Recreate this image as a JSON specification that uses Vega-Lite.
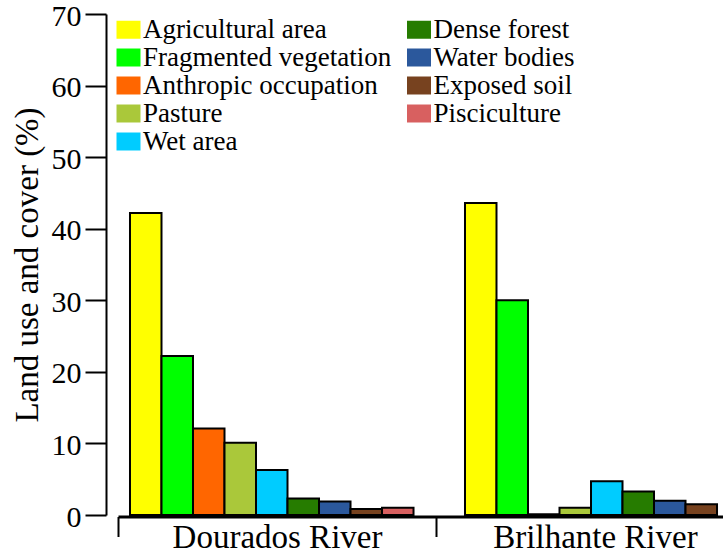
{
  "$schema": "https://vega.github.io/schema/vega-lite/v6.json",
  "width": 605,
  "height": 501,
  "autosize": {"type": "none"},
  "padding": {"left": 118, "top": 14, "right": 0, "bottom": 39},
  "background": "white",
  "config": {
    "view": {"stroke": null},
    "font": "Liberation Serif, Times New Roman, Times, DejaVu Serif, serif",
    "axis": {"labelFont": "Liberation Serif, Times New Roman, Times, DejaVu Serif, serif", "titleFont": "Liberation Serif, Times New Roman, Times, DejaVu Serif, serif", "labelColor": "black", "titleColor": "black", "domainColor": "black", "tickColor": "black", "grid": false},
    "legend": {"labelFont": "Liberation Serif, Times New Roman, Times, DejaVu Serif, serif", "labelColor": "black"}
  },
  "data": {
    "values": [
      {"River": "Dourados River", "Class": "Agricultural area", "Value": 42.2},
      {"River": "Dourados River", "Class": "Fragmented vegetation", "Value": 22.2},
      {"River": "Dourados River", "Class": "Anthropic occupation", "Value": 12.1},
      {"River": "Dourados River", "Class": "Pasture", "Value": 10.1},
      {"River": "Dourados River", "Class": "Wet area", "Value": 6.3},
      {"River": "Dourados River", "Class": "Dense forest", "Value": 2.3},
      {"River": "Dourados River", "Class": "Water bodies", "Value": 1.9},
      {"River": "Dourados River", "Class": "Exposed soil", "Value": 0.85},
      {"River": "Dourados River", "Class": "Pisciculture", "Value": 1.0},
      {"River": "Brilhante River", "Class": "Agricultural area", "Value": 43.6},
      {"River": "Brilhante River", "Class": "Fragmented vegetation", "Value": 30.0},
      {"River": "Brilhante River", "Class": "Anthropic occupation", "Value": 0.1},
      {"River": "Brilhante River", "Class": "Pasture", "Value": 1.0},
      {"River": "Brilhante River", "Class": "Wet area", "Value": 4.7},
      {"River": "Brilhante River", "Class": "Dense forest", "Value": 3.3},
      {"River": "Brilhante River", "Class": "Water bodies", "Value": 2.0},
      {"River": "Brilhante River", "Class": "Exposed soil", "Value": 1.5}
    ]
  },
  "layer": [
    {
      "mark": {"type": "bar", "stroke": "black", "strokeWidth": 2, "opacity": 1},
      "encoding": {
        "x": {
          "field": "River", "type": "nominal",
          "sort": ["Dourados River", "Brilhante River"],
          "scale": {"range": [0, 670], "paddingInner": 0, "paddingOuter": 0},
          "axis": null
        },
        "xOffset": {
          "field": "Class", "type": "nominal",
          "sort": ["Agricultural area", "Fragmented vegetation", "Anthropic occupation", "Pasture", "Wet area", "Dense forest", "Water bodies", "Exposed soil", "Pisciculture"],
          "scale": {"paddingInner": 0, "paddingOuter": 0.817, "align": 0.233}
        },
        "y": {
          "field": "Value", "type": "quantitative",
          "scale": {"domain": [0, 70], "nice": false},
          "axis": {
            "title": "Land use and cover (%)",
            "values": [0, 10, 20, 30, 40, 50, 60, 70],
            "offset": 12,
            "domainWidth": 2,
            "tickWidth": 2,
            "tickSize": 21,
            "labelPadding": 4,
            "labelOffset": 2,
            "labelFontSize": 30,
            "titleFontSize": 33,
            "titleFontWeight": "normal",
            "titlePadding": 7
          }
        },
        "color": {
          "field": "Class", "type": "nominal",
          "scale": {
            "domain": ["Agricultural area", "Fragmented vegetation", "Anthropic occupation", "Pasture", "Wet area", "Dense forest", "Water bodies", "Exposed soil", "Pisciculture"],
            "range": ["#ffff00", "#00ff00", "#ff6600", "#aac83a", "#00ccff", "#267c00", "#2b589c", "#77421f", "#d86060"]
          },
          "legend": {
            "title": null,
            "orient": "none",
            "legendX": -3,
            "legendY": 2,
            "columns": 2,
            "columnPadding": 13.5,
            "rowPadding": 0,
            "padding": 0,
            "symbolType": "M-1.2,-0.9H1.2V0.9H-1.2Z",
            "symbolSize": 400,
            "symbolStrokeWidth": 0,
            "symbolOpacity": 1,
            "labelFontSize": 27,
            "labelOffset": 1,
            "labelLimit": 400
          }
        }
      }
    },
    {
      "mark": {"type": "text", "text": ""},
      "encoding": {
        "x": {
          "field": "River", "type": "nominal",
          "sort": ["Dourados River", "Brilhante River"],
          "scale": {"range": [0, 636], "paddingInner": 0, "paddingOuter": 0},
          "axis": {
            "title": null,
            "orient": "bottom",
            "offset": 1.5,
            "tickBand": "extent",
            "domainWidth": 3,
            "tickWidth": 2,
            "tickSize": 20,
            "labelFontSize": 33,
            "labelPadding": -15,
            "labelAngle": 0,
            "labelLimit": 400
          }
        }
      }
    }
  ],
  "resolve": {"scale": {"x": "independent"}, "axis": {"x": "independent"}}
}
